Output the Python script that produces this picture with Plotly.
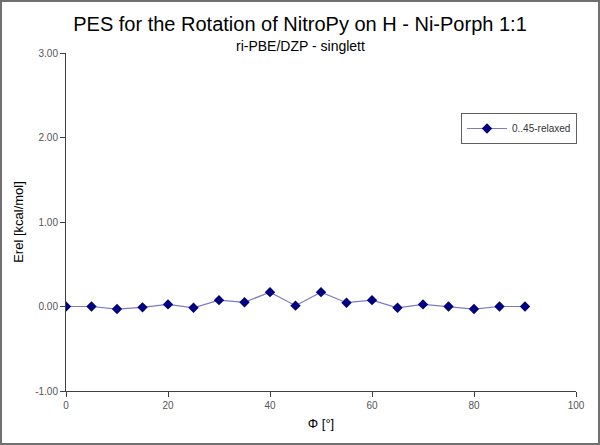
import plotly.graph_objects as go

phi = [0, 5, 10, 15, 20, 25, 30, 35, 40, 45, 50, 55, 60, 65, 70, 75, 80, 85, 90]
erel = [0.00, 0.00, -0.03, -0.01, 0.025, -0.015, 0.075, 0.05, 0.17, 0.01, 0.17,
        0.045, 0.075, -0.015, 0.025, 0.00, -0.03, 0.00, 0.00]
series_name = "0..45-relaxed"
x_ticks = [0, 20, 40, 60, 80, 100]
y_ticks = [-1, 0, 1, 2, 3]
y_ticklabels = ["-1.00", "0.00", "1.00", "2.00", "3.00"]

W, H = 600, 445
L, R, T, B = 66, 24, 53, 54
pw, ph = W - L - R, H - T - B

fig = go.Figure()
fig.add_trace(go.Scatter(
    x=phi, y=erel, mode="lines+markers", name=series_name,
    line=dict(color="#7b7bc4", width=1.2),
    marker=dict(symbol="diamond", color="#000080", size=8),
))

fig.update_layout(
    width=W, height=H,
    margin=dict(l=L, r=R, t=T, b=B),
    paper_bgcolor="white", plot_bgcolor="white",
    font=dict(family="Liberation Sans, Arial, sans-serif", color="#000000"),
    title=dict(text="PES for the Rotation of NitroPy on H - Ni-Porph 1:1",
               x=0.5, xanchor="center", y=1 - 24 / H, yanchor="middle",
               font=dict(size=20, color="#000000")),
    showlegend=True,
    legend=dict(x=(461 - L) / pw, y=1 - (113 - T) / ph, xanchor="left", yanchor="top",
                bgcolor="white", bordercolor="#606060", borderwidth=1,
                font=dict(size=10, color="#333333"), itemwidth=40,
                tracegroupgap=0),
    xaxis=dict(range=[0, 100], tickvals=x_ticks, showgrid=False, zeroline=False,
               showline=True, linecolor="#404040", linewidth=1,
               ticks="outside", ticklen=5, tickcolor="#404040",
               tickfont=dict(size=10, color="#555555"),
               title=dict(text="Φ [°]", font=dict(size=13, color="#000000"), standoff=8)),
    yaxis=dict(range=[-1, 3], tickvals=y_ticks, ticktext=y_ticklabels, showgrid=False,
               zeroline=False, showline=True, linecolor="#404040", linewidth=1,
               ticks="outside", ticklen=5, tickcolor="#404040",
               tickfont=dict(size=10, color="#555555"),
               title=dict(text="Erel [kcal/mol]", font=dict(size=13, color="#000000"), standoff=8)),
)

fig.add_annotation(text="ri-PBE/DZP - singlett", xref="paper", yref="paper",
                   x=(300 - L) / pw, y=1 + (T - 46) / ph, xanchor="center", yanchor="middle",
                   showarrow=False, font=dict(size=14, color="#000000"))

fig.add_shape(type="rect", xref="paper", yref="paper",
              x0=(1 - L) / pw, x1=1 + (R - 1) / pw,
              y0=-(B - 1) / ph, y1=1 + (T - 1) / ph,
              line=dict(color="#707070", width=2), layer="above")

fig.write_html("out.html", config={"displayModeBar": False},
               post_script="document.body.style.margin='0';document.body.style.overflow='hidden';")
